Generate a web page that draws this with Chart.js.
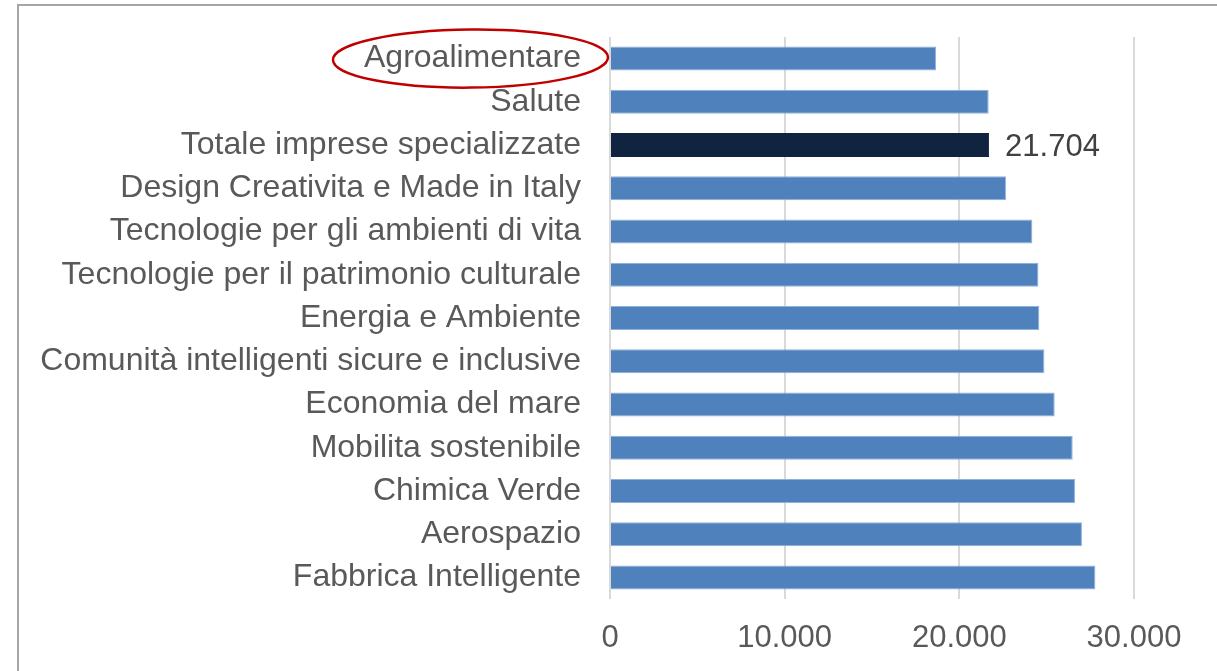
<!DOCTYPE html>
<html>
<head>
<meta charset="utf-8">
<script src="https://cdn.jsdelivr.net/npm/chart.js@4.4.1/dist/chart.umd.min.js"></script>
<style>
    body { margin: 0; background: #fff; overflow: hidden; }
    #frame { position: absolute; left: 17px; top: 4px; width: 1400px; height: 900px; border: 2px solid #A6A6A6; }
    #wrap { position: absolute; left: 0; top: 0; width: 1217px; height: 671px; }
</style>
</head>
<body>
<div id="frame"></div>
<div id="wrap"><canvas id="settoriChart"></canvas></div>
<script>
const settori = [
    'Agroalimentare',
    'Salute',
    'Totale imprese specializzate',
    'Design Creativita e Made in Italy',
    'Tecnologie per gli ambienti di vita',
    'Tecnologie per il patrimonio culturale',
    'Energia e Ambiente',
    'Comunità intelligenti sicure e inclusive',
    'Economia del mare',
    'Mobilita sostenibile',
    'Chimica Verde',
    'Aerospazio',
    'Fabbrica Intelligente'
];
const valori = [18670, 21680, 21704, 22670, 24180, 24530, 24580, 24870, 25460, 26490, 26620, 27020, 27790];
const tickValori = [0, 10000, 20000, 30000];
const totaleLabel = 'Totale imprese specializzate';
const evidenziato = 'Agroalimentare';

const fmt = v => v.toString().replace(/\B(?=(\d{3})+(?!\d))/g, '.');
const FONT = '"Liberation Sans", Arial, sans-serif';

// value label on the total bar + red ellipse around highlighted label
const extras = {
    id: 'extras',
    afterDatasetsDraw(chart) {
        const ctx = chart.ctx;
        const meta = chart.getDatasetMeta(0);
        const iTot = settori.indexOf(totaleLabel);
        const bar = meta.data[iTot];
        ctx.save();
        ctx.font = '31px ' + FONT;
        ctx.fillStyle = '#404040';
        ctx.textAlign = 'left';
        ctx.textBaseline = 'middle';
        ctx.fillText(fmt(valori[iTot]), bar.x + 16, bar.y + 2);

        const iEv = settori.indexOf(evidenziato);
        const yScale = chart.scales.y;
        const cy = yScale.getPixelForValue(iEv);
        ctx.font = '32px ' + FONT;
        const w = ctx.measureText(evidenziato).width;
        const right = chart.chartArea.left - 29;
        const cx = right - w / 2 - 2;
        ctx.beginPath();
        ctx.ellipse(cx, cy, w / 2 + 29, 29, -0.01, 0, Math.PI * 2);
        ctx.strokeStyle = '#C00000';
        ctx.lineWidth = 2.5;
        ctx.stroke();
        ctx.restore();
    }
};

const ctx = document.getElementById('settoriChart');
new Chart(ctx, {
    type: 'bar',
    data: {
        labels: settori,
        datasets: [{
            data: valori,
            backgroundColor: settori.map(s => s === totaleLabel ? '#10243F' : '#4F81BD'),
            borderColor: settori.map(s => s === totaleLabel ? '#10243F' : '#8FB1DC'),
            borderWidth: 1,
            barPercentage: 0.555,
            categoryPercentage: 1
        }]
    },
    options: {
        indexAxis: 'y',
        responsive: true,
        maintainAspectRatio: false,
        animation: false,
        layout: { padding: { top: 37, right: 83, bottom: 0, left: 0 } },
        plugins: {
            legend: { display: false },
            tooltip: { enabled: false }
        },
        scales: {
            x: {
                min: 0,
                max: 30000,
                afterFit: s => { s.height = 72; },
                afterBuildTicks: s => { s.ticks = tickValori.map(v => ({ value: v })); },
                grid: { color: '#D9D9D9', lineWidth: 2, drawTicks: false },
                border: { display: false },
                ticks: {
                    padding: 21,
                    color: '#595959',
                    font: { family: FONT, size: 31 },
                    callback: v => fmt(v)
                }
            },
            y: {
                afterFit: s => { s.width = 610; s.paddingTop = 0; s.paddingBottom = 0; },
                grid: { display: false, drawTicks: false },
                border: { display: false },
                ticks: {
                    padding: 29,
                    autoSkip: false,
                    color: '#595959',
                    font: { family: FONT, size: 32 }
                }
            }
        }
    },
    plugins: [extras]
});
</script>
</body>
</html>
